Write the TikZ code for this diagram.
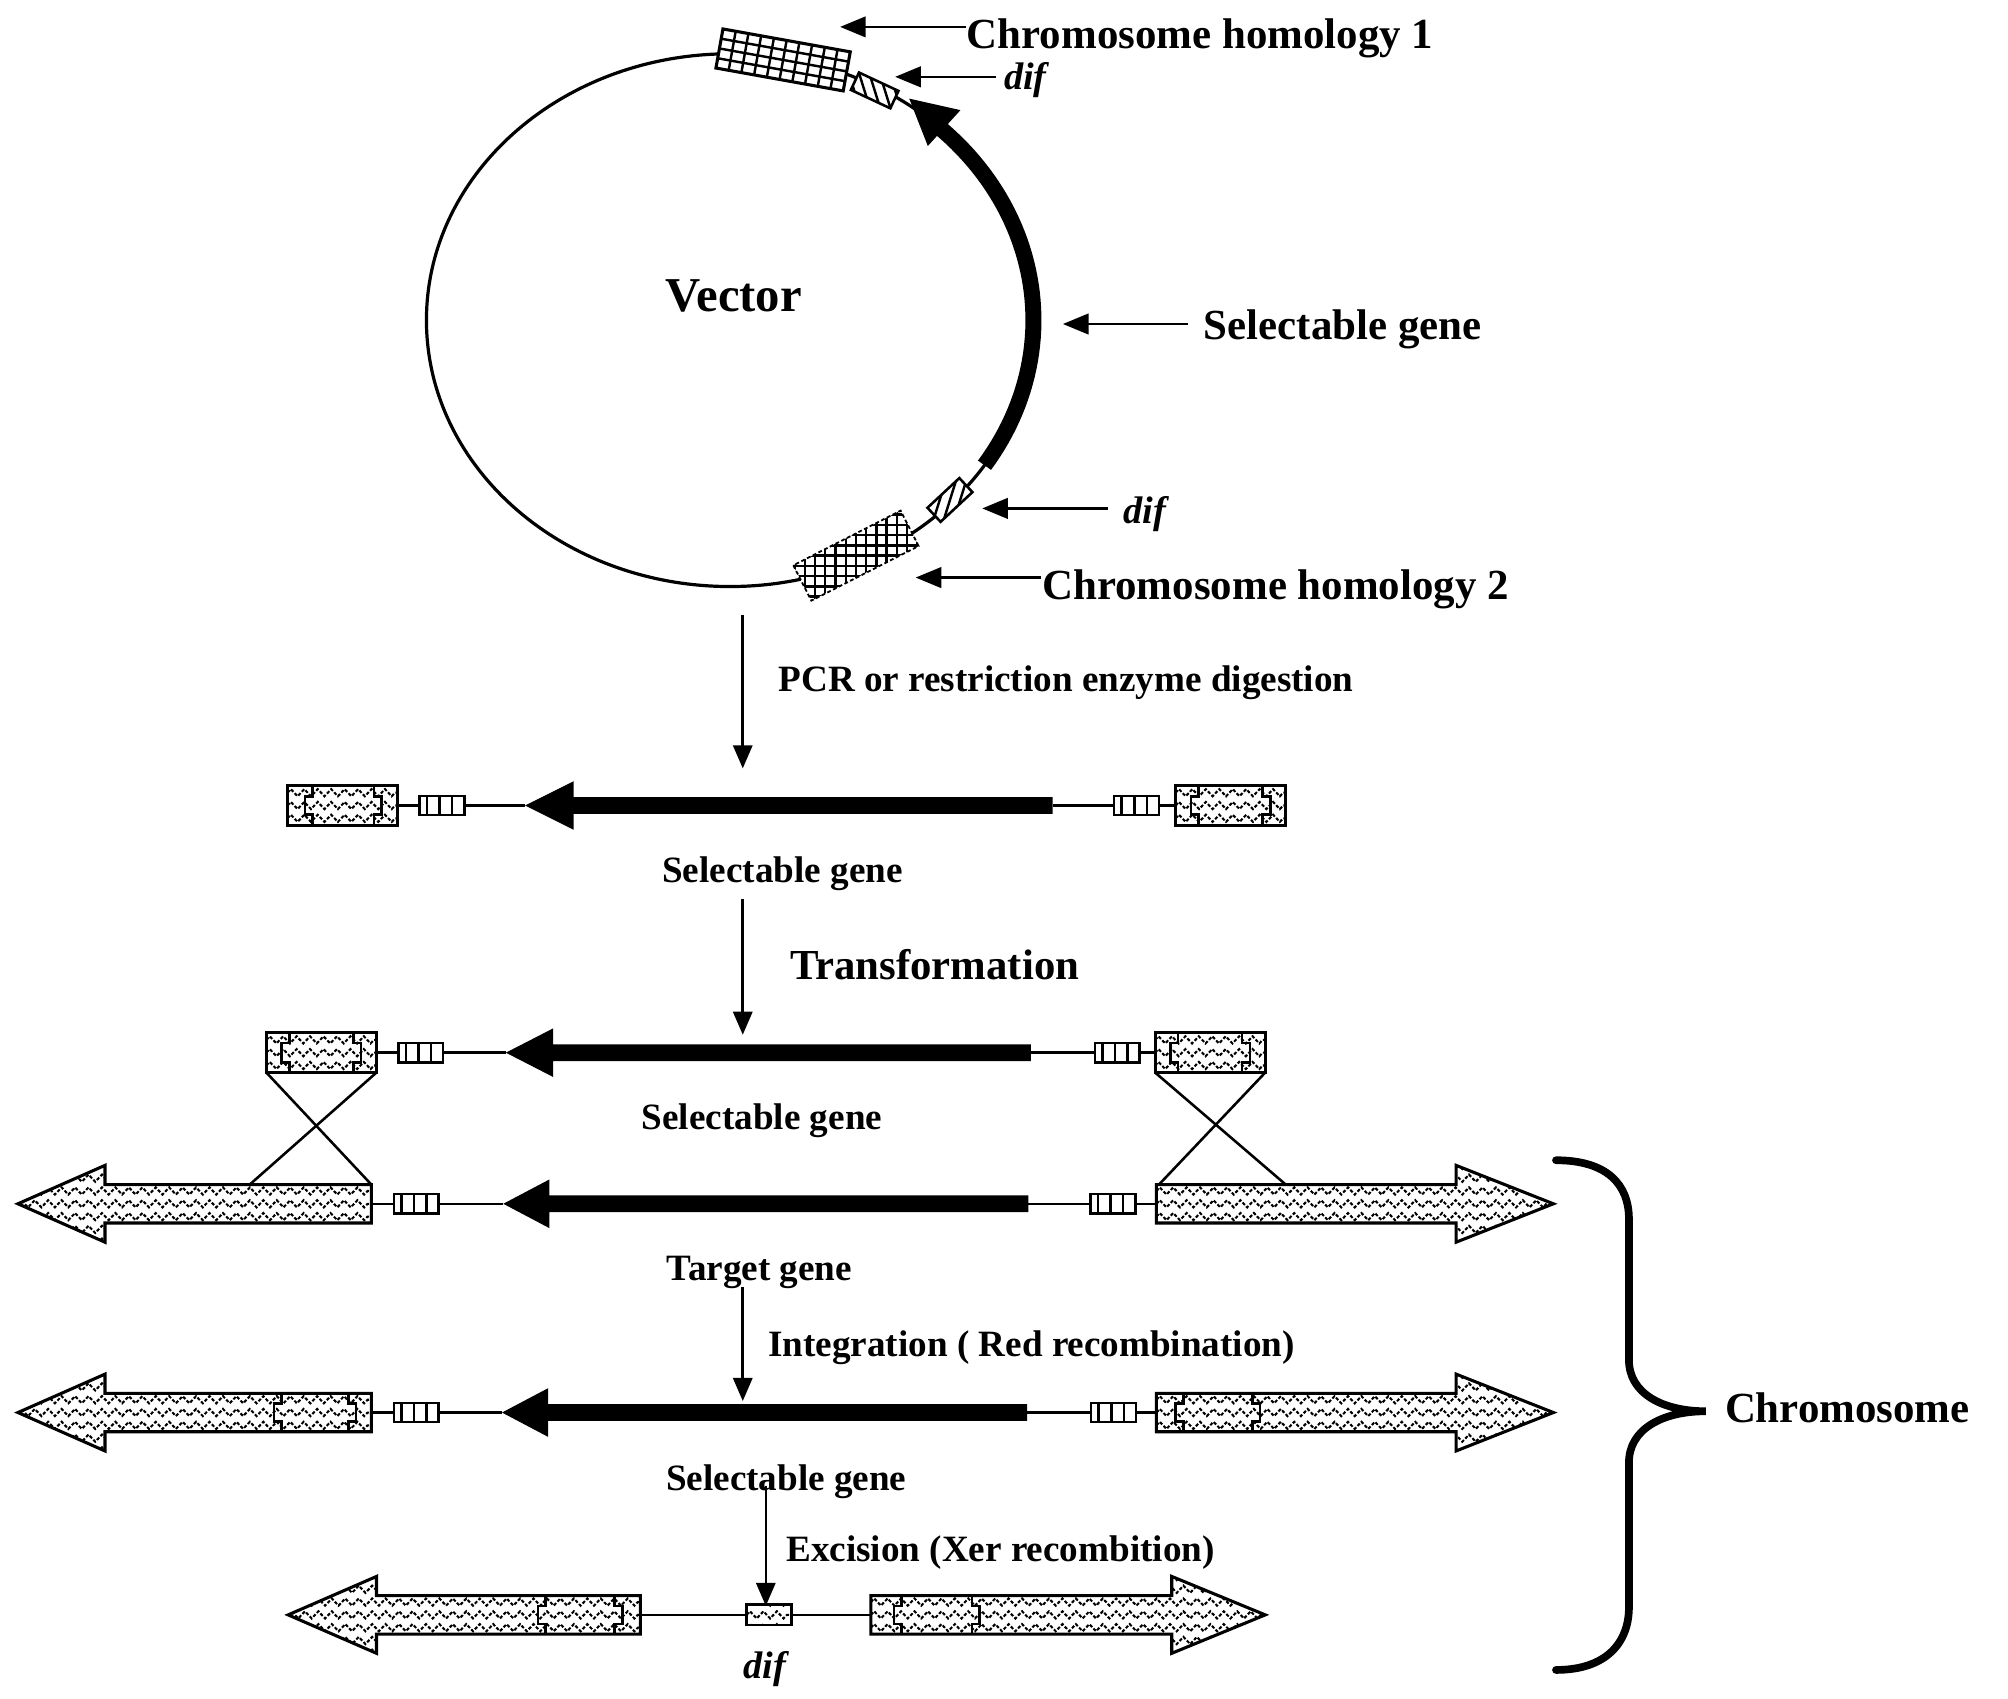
\documentclass[tikz,border=0pt]{standalone}
\usepackage{fontspec}
\setmainfont{Liberation Serif}
\usetikzlibrary{arrows.meta,decorations.pathmorphing,calc}
\newcommand\fbig{\fontsize{33.5pt}{36pt}\selectfont\bfseries}
\newcommand\fmid{\fontsize{29pt}{32pt}\selectfont\bfseries}
\newcommand\fdif{\fontsize{30pt}{33pt}\selectfont\bfseries\itshape}
\tikzset{
  conn/.style={line width=2pt},
  larrow/.style={line width=2pt,-{Triangle[length=20pt,width=16pt]}},
  varrow/.style={line width=2pt,-{Triangle[length=18pt,width=15pt]}},
  brk/.style={line width=2pt,line join=miter},
  outl/.style={draw,line width=2.4pt,line join=miter},
  wavyline/.style={line width=1.6pt,dash pattern=on 2.6pt off 1.5pt,decorate,
     decoration={zigzag,segment length=10.5pt,amplitude=2.8pt}},
  wavy/.style={fill=white,path picture={
     \foreach \k in {-3,...,3}{\draw[wavyline] ([yshift=\k*10pt]path picture bounding box.west) -- ([yshift=\k*10pt]path picture bounding box.east);}}},
  hbox/.style={outl,wavy,minimum width=86pt,minimum height=31pt,inner sep=0pt,outer sep=0pt},
  sbox/.style={draw,line width=2pt,fill=white,minimum width=35pt,minimum height=15pt,inner sep=0pt,outer sep=0pt,
     path picture={\foreach \f in {0.17,0.45,0.73}{\draw[line width=2pt]
       ($(path picture bounding box.south west)!\f!(path picture bounding box.south east)$) --
       ($(path picture bounding box.north west)!\f!(path picture bounding box.north east)$);}}},
  dbox/.style={outl,line width=2pt,wavy,minimum width=35pt,minimum height=16pt,inner sep=0pt,outer sep=0pt},
  txt/.style={inner sep=0pt,outer sep=0pt},
  hatchline/.style={line width=1.9pt}
}
\newcommand\inbrk[4]{%
  \draw[brk] ({#1+6},{#3}) -- ({#1+6},{#3+8}) -- ({#1},{#3+8}) -- ({#1},{#4-8}) -- ({#1+6},{#4-8}) -- ({#1+6},{#4});
  \draw[brk] ({#2-6},{#3}) -- ({#2-6},{#3+8}) -- ({#2},{#3+8}) -- ({#2},{#4-8}) -- ({#2-6},{#4-8}) -- ({#2-6},{#4});}
\newcommand\bigleft[4]{%
  \draw[outl,wavy] ({#1},{#4}) -- ({#2},{#4-30}) -- ({#2},{#4-15}) -- ({#3},{#4-15}) -- ({#3},{#4+15}) -- ({#2},{#4+15}) -- ({#2},{#4+30}) -- cycle;}
\newcommand\bigright[4]{%
  \draw[outl,wavy] ({#1},{#4-15}) -- ({#2},{#4-15}) -- ({#2},{#4-30}) -- ({#3},{#4}) -- ({#2},{#4+30}) -- ({#2},{#4+15}) -- ({#1},{#4+15}) -- cycle;}
\newcommand\selarr[4]{%
  \fill ({#1},{#4}) -- ({#2},{#4-19}) -- ({#2},{#4-6.5}) -- ({#3},{#4-6.5}) -- ({#3},{#4+6.5}) -- ({#2},{#4+6.5}) -- ({#2},{#4+19}) -- cycle;}
\begin{document}
\begin{tikzpicture}[x=1pt,y=-1pt]
\useasboundingbox (0,0) rectangle (1568,1326);

% ---------------- vector ----------------
\draw[line width=2.5pt] (570,250) ellipse [x radius=237pt, y radius=208pt];
\node[txt,anchor=base] (vec) at (573,243) {\fontsize{38pt}{40pt}\selectfont\bfseries Vector};
\draw[line width=12.5pt] plot[domain=-33:46.5,samples=50,variable=\t] ({570+237*cos(\t)},{250-208*sin(\t)});
\coordinate (sgt) at (710,77);
\coordinate (sgl) at (724.5,114);
\coordinate (sgr) at (750,86);
\fill (sgt) -- (sgl) -- (sgr) -- cycle;

% homology 1
\begin{scope}[shift={(611.5,46.8)},rotate=-10.2]
  \fill[white] (-50.5,-15.5) rectangle (50.5,15.5);
  \foreach \g in {-40.4,-30.3,-20.2,-10.1,0,10.1,20.2,30.3,40.4} \draw[hatchline] (\g,-15.5) -- (\g,15.5);
  \foreach \g in {-7.75,0,7.75} \draw[hatchline] (-50.5,\g) -- (50.5,\g);
  \draw[line width=2.4pt] (-50.5,-15.5) rectangle (50.5,15.5);
\end{scope}
% dif 1
\begin{scope}[shift={(683,70.6)},rotate=-25]
  \fill[white] (-17,-7.5) rectangle (17,7.5);
  \begin{scope}
    \clip (-17,-7.5) rectangle (17,7.5);
    \begin{scope}[rotate=25]
      \foreach \g in {-24,-16,...,24} \draw[hatchline] ({\g-5},-16) -- ({\g+5},16);
    \end{scope}
  \end{scope}
  \draw[line width=2pt] (-17,-7.5) rectangle (17,7.5);
\end{scope}
% dif 2
\begin{scope}[shift={(741.8,390.4)},rotate=43]
  \fill[white] (-17,-7.5) rectangle (17,7.5);
  \begin{scope}
    \clip (-17,-7.5) rectangle (17,7.5);
    \begin{scope}[rotate=-43]
      \foreach \g in {-24,-16,...,24} \draw[hatchline] ({\g-5},16) -- ({\g+5},-16);
    \end{scope}
  \end{scope}
  \draw[line width=2pt] (-17,-7.5) rectangle (17,7.5);
\end{scope}
% homology 2
\begin{scope}[shift={(668.4,433.9)},rotate=27]
  \fill[white] (-47,-15.5) rectangle (47,15.5);
  \begin{scope}
    \clip (-47,-15.5) rectangle (47,15.5);
    \begin{scope}[rotate=-27]
      \foreach \g in {-56,-48,...,56} {\draw[hatchline] (\g,-60) -- (\g,60); \draw[hatchline] (-60,\g) -- (60,\g);}
    \end{scope}
  \end{scope}
  \draw[line width=1.4pt,dash pattern=on 3pt off 2pt] (-47,-15.5) rectangle (47,15.5);
\end{scope}

% labels round the vector
\node[txt,anchor=base west] (lh1) at (755,38) {\fbig Chromosome homology 1};
\coordinate (h1s) at (754,21); \coordinate (h1t) at (656,21);
\draw[larrow] (h1s) -- (h1t);
\node[txt,anchor=base west] (ld1) at (784,70) {\fdif dif};
\coordinate (d1s) at (778,60); \coordinate (d1t) at (699,60);
\draw[larrow] (d1s) -- (d1t);
\node[txt,anchor=base west] (lsg) at (940,265) {\fbig Selectable gene};
\coordinate (sgs) at (928,253); \coordinate (sgtip) at (830,253);
\draw[larrow] (sgs) -- (sgtip);
\node[txt,anchor=base west] (ld2) at (877,409) {\fdif dif};
\coordinate (d2s) at (865,397); \coordinate (d2t) at (767,397);
\draw[larrow] (d2s) -- (d2t);
\node[txt,anchor=base west] (lh2) at (814,468) {\fbig Chromosome homology 2};
\coordinate (h2s) at (813,451); \coordinate (h2t) at (715,451);
\draw[larrow] (h2s) -- (h2t);

% ---------------- step arrows ----------------
\coordinate (a1s) at (580,480); \coordinate (a1e) at (580,600);
\draw[varrow] (a1s) -- (a1e);
\node[txt,anchor=base west] (pcr) at (608,540) {\fmid PCR or restriction enzyme digestion};
\coordinate (a2s) at (580,702); \coordinate (a2e) at (580,808);
\draw[varrow] (a2s) -- (a2e);
\node[txt,anchor=base west] (trf) at (617,765) {\fontsize{33.4pt}{36pt}\selectfont\bfseries Transformation};
\coordinate (a3s) at (580,1005); \coordinate (a3e) at (580,1094);
\draw[varrow] (a3s) -- (a3e);
\node[txt,anchor=base west] (intg) at (600,1059) {\fmid Integration ( Red recombination)};
\coordinate (a4s) at (598,1160); \coordinate (a4e) at (598,1254);
\draw[varrow] (a4s) -- (a4e);
\node[txt,anchor=base west] (exc) at (614,1219) {\fmid Excision (Xer recombition)};

% ---------------- row 1 : linear fragment ----------------
\node[hbox] (lb1) at (267.5,629) {};
\node[sbox] (sa1) at (345,629) {};
\selarr{410}{448}{822}{629}
\coordinate (t1) at (410,629); \coordinate (e1) at (822,629);
\node[sbox] (sb1) at (887.5,629) {};
\node[hbox] (rb1) at (961,629) {};
\inbrk{238}{298}{614}{644}
\inbrk{930}{992}{614}{644}
\draw[conn] (lb1.east) -- (sa1.west);
\draw[conn] (sa1.east) -- (t1);
\draw[conn] (e1) -- (sb1.west);
\draw[conn] (sb1.east) -- (rb1.west);
\node[txt,anchor=base] (sg1) at (611,689) {\fmid Selectable gene};

% ---------------- row 2 ----------------
\node[hbox] (lb2) at (251,822) {};
\node[sbox] (sa2) at (328.5,822) {};
\selarr{395}{432}{805}{822}
\coordinate (t2) at (395,822); \coordinate (e2) at (805,822);
\node[sbox] (sb2) at (872.5,822) {};
\node[hbox] (rb2) at (945,822) {};
\inbrk{220}{282}{806.5}{837.5}
\inbrk{914}{976}{806.5}{837.5}
\draw[conn] (lb2.east) -- (sa2.west);
\draw[conn] (sa2.east) -- (t2);
\draw[conn] (e2) -- (sb2.west);
\draw[conn] (sb2.east) -- (rb2.west);
\node[txt,anchor=base] (sg2) at (595,882) {\fmid Selectable gene};

% ---------------- row 3 : chromosome ----------------
\bigleft{14}{82}{290}{940}
\coordinate (l3e) at (290,940);
\node[sbox] (sa3) at (325,940) {};
\selarr{393}{429}{803}{940}
\coordinate (t3) at (393,940); \coordinate (e3) at (803,940);
\node[sbox] (sb3) at (869,940) {};
\bigright{903}{1137}{1213}{940}
\coordinate (r3s) at (903,940);
\draw[conn] (l3e) -- (sa3.west);
\draw[conn] (sa3.east) -- (t3);
\draw[conn] (e3) -- (sb3.west);
\draw[conn] (sb3.east) -- (r3s);
\node[txt,anchor=base] (tg) at (593,1000) {\fmid Target gene};
% crossing over
\coordinate (xl1) at (290,925); \coordinate (xl2) at (195,925);
\coordinate (xr1) at (1004,925); \coordinate (xr2) at (905,925);
\draw[conn] (lb2.south west) -- (xl1);
\draw[conn] (lb2.south east) -- (xl2);
\draw[conn] (rb2.south west) -- (xr1);
\draw[conn] (rb2.south east) -- (xr2);

% ---------------- row 4 : integration ----------------
\bigleft{14}{82}{290}{1103}
\coordinate (l4e) at (290,1103);
\inbrk{214}{278}{1088}{1118}
\node[sbox] (sa4) at (325,1103) {};
\selarr{392}{428}{802}{1103}
\coordinate (t4) at (392,1103); \coordinate (e4) at (802,1103);
\node[sbox] (sb4) at (869.5,1103) {};
\bigright{903}{1137}{1213}{1103}
\coordinate (r4s) at (903,1103);
\inbrk{918}{984}{1088}{1118}
\draw[conn] (l4e) -- (sa4.west);
\draw[conn] (sa4.east) -- (t4);
\draw[conn] (e4) -- (sb4.west);
\draw[conn] (sb4.east) -- (r4s);
\node[txt,anchor=base] (sg4) at (614,1164) {\fmid Selectable gene};

% ---------------- row 5 : excision ----------------
\bigleft{225}{294}{500}{1261}
\coordinate (l5e) at (500,1261);
\inbrk{420}{486}{1246}{1276}
\node[dbox] (dif5b) at (600.5,1261) {};
\bigright{680}{915}{988}{1261}
\coordinate (r5s) at (680,1261);
\inbrk{698}{765}{1246}{1276}
\draw[conn] (l5e) -- (dif5b.west);
\draw[conn] (dif5b.east) -- (r5s);
\node[txt,anchor=base] (dif5) at (597,1311) {\fdif dif};

% ---------------- brace ----------------
\coordinate (bt) at (1215,906); \coordinate (bc) at (1332,1102); \coordinate (bb) at (1215,1304);
\draw[line width=6pt,line cap=round] (bt) .. controls (1255,906) and (1272,925) .. (1272,952) -- (1272,1062)
   .. controls (1272,1088) and (1298,1102) .. (bc) .. controls (1298,1102) and (1272,1116) .. (1272,1142)
   -- (1272,1255) .. controls (1272,1282) and (1255,1304) .. (bb);
\node[txt,anchor=base west] (chr) at (1347,1111) {\fbig Chromosome};
\end{tikzpicture}
\end{document}
